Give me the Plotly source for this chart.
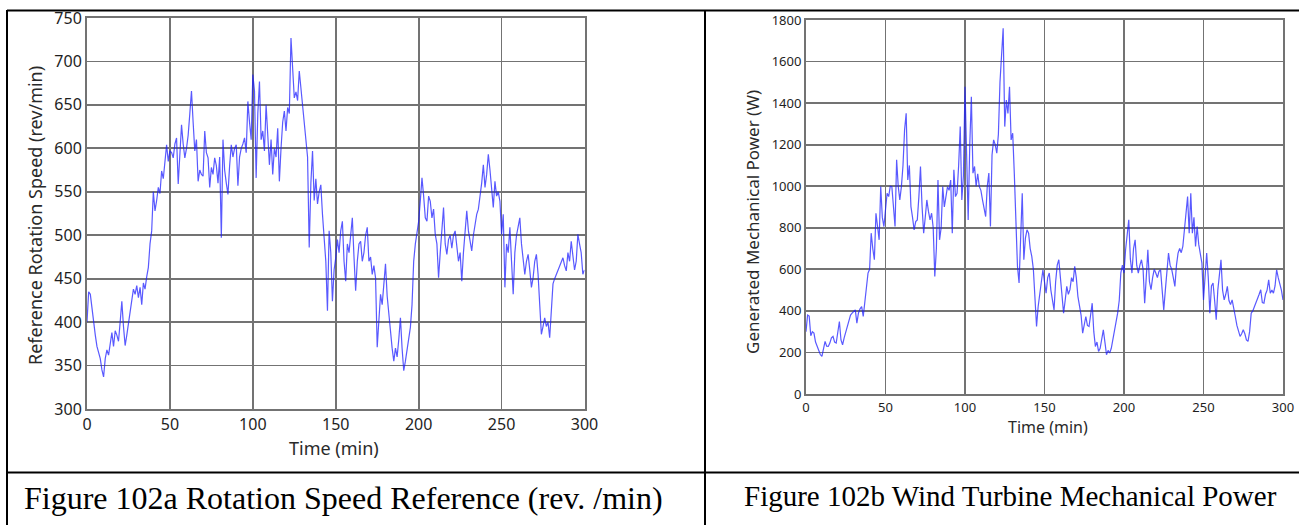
import plotly.graph_objects as go

# ---------------- data ----------------
time_min = list(range(0, 301))

speed_rpm = [
    400, 435, 432, 415, 395, 385, 372, 365, 358, 345,
    337, 358, 368, 362, 375, 388, 372, 390, 385, 378,
    400, 424, 395, 373, 385, 400, 412, 425, 438, 432,
    442, 428, 440, 420, 445, 438, 452, 463, 490, 505,
    550, 528, 540, 555, 548, 574, 565, 590, 604, 585,
    597, 595, 589, 605, 612, 559, 600, 627, 605, 589,
    600, 615, 640, 666, 630, 597, 610, 562, 575, 570,
    568, 620, 595, 589, 555, 578, 570, 589, 580, 560,
    590, 497, 610, 575, 560, 547, 580, 604, 590, 600,
    604, 557, 590, 600, 605, 612, 595, 654, 630, 610,
    685, 666, 566, 640, 677, 610, 620, 597, 650, 620,
    581, 610, 570, 600, 590, 623, 562, 600, 630, 643,
    620, 647, 640, 727, 690, 658, 665, 655, 689, 670,
    650, 635, 610, 590, 486, 560, 597, 540, 565, 536,
    550, 558, 524, 500, 470, 413, 505, 480, 424, 460,
    474, 495, 480, 505, 516, 470, 447, 490, 480, 500,
    520, 475, 436, 470, 490, 493, 470, 480, 500, 509,
    470, 475, 455, 465, 451, 371, 410, 432, 420, 440,
    467, 430, 405, 390, 370, 355, 370, 360, 380, 405,
    370, 344, 355, 370, 385, 394, 420, 470, 490, 505,
    516, 540, 566, 545, 520, 516, 545, 539, 520, 530,
    501, 490, 451, 480, 510, 532, 490, 478, 495, 500,
    485, 500, 505, 490, 470, 480, 447, 480, 510, 528,
    505, 495, 482, 500, 515, 524, 530, 543, 560, 581,
    555, 570, 593, 575, 550, 532, 562, 545, 550, 539,
    501, 524, 440, 490, 480, 509, 470, 432, 480, 500,
    510, 520, 490, 470, 455, 470, 478, 460, 440, 451,
    470, 478, 455, 420, 386, 395, 405, 395, 400, 382,
    420, 444, 450, 455, 460, 463, 470, 474, 465, 459,
    480, 470, 493, 475, 460, 470, 501, 490, 480, 455,
    460,
]

power_w = [
    300, 380, 375, 280, 300, 293, 250, 229, 215, 190,
    181, 210, 253, 230, 229, 245, 270, 277, 250, 245,
    290, 349, 260, 237, 270, 300, 325, 350, 380, 389,
    400, 405, 341, 390, 410, 421, 373, 453, 520, 582,
    600, 774, 700, 646, 870, 800, 742, 998, 850, 806,
    880, 966, 950, 1000, 998, 900, 806, 1127, 1000, 934,
    998, 1100, 1271, 1351, 1030, 1100, 902, 850, 790, 830,
    838, 950, 1095, 902, 774, 850, 934, 880, 838, 870,
    800, 566, 700, 1030, 742, 800, 998, 900, 950, 998,
    980, 1030, 774, 1079, 950, 966, 1100, 1287, 934, 1050,
    1479, 1095, 838, 1200, 1431, 1063, 1095, 1000, 1060, 998,
    980, 934, 900, 854, 1000, 1063, 806, 1150, 1223, 1200,
    1159, 1250, 1500, 1655, 1760, 1287, 1415, 1350, 1479, 1223,
    1255, 1063, 800, 614, 534, 760, 966, 646, 750, 790,
    774, 700, 662, 600, 453, 325, 420, 485, 560, 598,
    540, 485, 560, 582, 500, 450, 405, 540, 620, 646,
    560, 470, 389, 450, 518, 480, 502, 560, 540, 614,
    560, 470, 420, 380, 293, 340, 373, 330, 325, 380,
    437, 300, 229, 250, 205, 220, 260, 309, 250, 189,
    210, 197, 220, 260, 293, 330, 389, 450, 582, 620,
    582, 694, 780, 838, 650, 582, 700, 742, 620, 582,
    620, 646, 600, 437, 560, 694, 540, 502, 560, 600,
    582, 560, 590, 598, 500, 405, 500, 600, 678, 620,
    600, 560, 518, 620, 678, 700, 680, 710, 800, 900,
    950, 774, 966, 774, 850, 710, 806, 720, 680, 630,
    453, 600, 678, 560, 389, 520, 534, 450, 357, 500,
    560, 646, 500, 453, 480, 518, 450, 430, 453, 420,
    373, 330, 300, 277, 290, 309, 290, 260, 253, 300,
    389, 400, 420, 437, 460, 480, 502, 440, 437, 480,
    500, 550, 485, 500, 485, 520, 598, 560, 534, 500,
    453,
]

x_ticks = [0, 50, 100, 150, 200, 250, 300]
speed_ticks = [300, 350, 400, 450, 500, 550, 600, 650, 700, 750]
power_ticks = [0, 200, 400, 600, 800, 1000, 1200, 1400, 1600, 1800]

title_a_y = "Reference Rotation Speed (rev/min)"
title_b_y = "Generated Mechanical Power (W)"
title_x = "Time (min)"
caption_a = "Figure 102a Rotation Speed Reference (rev. /min)"
caption_b = "Figure 102b Wind Turbine Mechanical Power"

# ---------------- layout helpers ----------------
W, H = 1299, 525


def fx(p):
    return p / W


def fy(p):
    return 1 - p / H


LINE = "rgba(25,25,255,0.72)"
GRID = "#737373"
SANS = "Noto Sans, Open Sans, sans-serif"
SERIF = "Liberation Serif, Times New Roman, serif"

fig = go.Figure()
fig.add_trace(go.Scatter(x=time_min, y=speed_rpm, mode="lines", xaxis="x", yaxis="y",
                         line=dict(color=LINE, width=1.2), hoverinfo="skip", showlegend=False))
fig.add_trace(go.Scatter(x=time_min, y=power_w, mode="lines", xaxis="x2", yaxis="y2",
                         line=dict(color=LINE, width=1.2), hoverinfo="skip", showlegend=False))

common = dict(showgrid=True, gridcolor=GRID, gridwidth=1.7, showline=True, linecolor=GRID,
              linewidth=2, mirror=True, zeroline=False, ticks="", fixedrange=True,
              automargin=False)

fig.update_layout(
    width=W, height=H,
    margin=dict(l=0, r=0, t=0, b=0, pad=0),
    paper_bgcolor="white", plot_bgcolor="white",
    xaxis=dict(domain=[fx(87), fx(584.5)], range=[0, 300], tickvals=x_ticks, anchor="y",
               tickfont=dict(family=SANS, size=16, color="#1e1e1e"), **common),
    yaxis=dict(domain=[fy(409), fy(18)], range=[300, 750], tickvals=speed_ticks, anchor="x",
               tickfont=dict(family=SANS, size=16, color="#1e1e1e"), **common),
    xaxis2=dict(domain=[fx(806), fx(1283)], range=[0, 300], tickvals=x_ticks, anchor="y2",
                tickfont=dict(family=SANS, size=13, color="#1e1e1e"), **common),
    yaxis2=dict(domain=[fy(394), fy(20)], range=[0, 1800], tickvals=power_ticks, anchor="x2",
                tickfont=dict(family=SANS, size=13, color="#1e1e1e"), **common),
)

ann = [
    dict(text=title_a_y, x=fx(35), y=fy(216), textangle=-90, font=dict(family=SANS, size=18, color="#2a2a2a")),
    dict(text=title_x, x=fx(334), y=fy(448), font=dict(family=SANS, size=18, color="#2a2a2a")),
    dict(text=title_b_y, x=fx(753), y=fy(222), textangle=-90, font=dict(family=SANS, size=17, color="#2a2a2a")),
    dict(text=title_x, x=fx(1048), y=fy(427), font=dict(family=SANS, size=16, color="#2a2a2a")),
]
for a in ann:
    a.update(xref="paper", yref="paper", showarrow=False, xanchor="center", yanchor="middle")
ann.append(dict(text=caption_a, x=fx(22), y=fy(498), xref="paper", yref="paper", showarrow=False,
                xanchor="left", yanchor="middle", font=dict(family=SERIF, size=32, color="black")))
ann.append(dict(text=caption_b, x=fx(742), y=fy(496), xref="paper", yref="paper", showarrow=False,
                xanchor="left", yanchor="middle", font=dict(family=SERIF, size=29, color="black")))
fig.update_layout(annotations=ann)

# table border lines
borders = [
    (fx(7), fy(10.5), fx(1299), fy(10.5)),
    (fx(7), fy(10), fx(7), fy(525)),
    (fx(705), fy(10), fx(705), fy(525)),
    (fx(7), fy(472.5), fx(1299), fy(472.5)),
]
fig.update_layout(shapes=[dict(type="line", xref="paper", yref="paper", x0=a, y0=b, x1=c, y1=d,
                               line=dict(color="black", width=2)) for a, b, c, d in borders])

fig.write_html(
    "out.html",
    config={"displayModeBar": False, "staticPlot": True},
    post_script=(
        "var gd=document.getElementById('{plot_id}');"
        "gd.style.position='fixed';gd.style.left='0px';gd.style.top='0px';"
        "document.body.style.margin='0';document.body.style.padding='0';"
        "document.body.style.overflow='hidden';"
        "document.documentElement.style.overflow='hidden';"
    ),
)
